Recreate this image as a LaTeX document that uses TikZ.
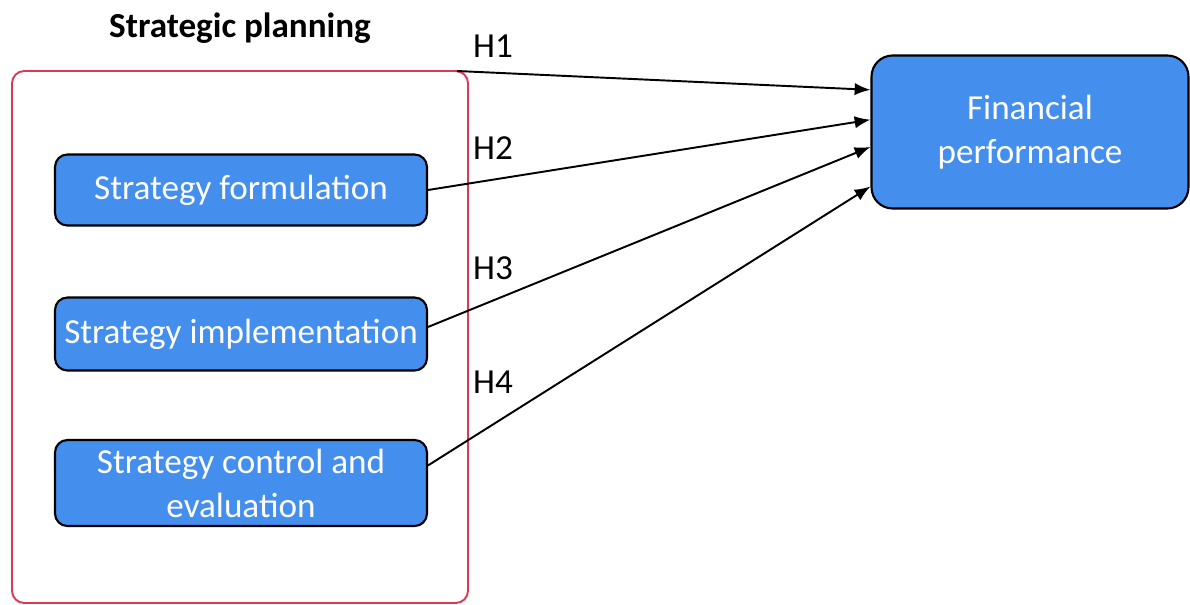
\documentclass[tikz,border=0pt]{standalone}
\usepackage{fontspec}
\setmainfont{Carlito}
\usetikzlibrary{arrows.meta,positioning}
\definecolor{boxblue}{RGB}{68,142,238}
\definecolor{framered}{RGB}{222,56,88}

\begin{document}
\begin{tikzpicture}[x=0.02cm, y=-0.02cm,
    stratbox/.style={draw=black, line width=1.2pt, fill=boxblue, rounded corners=7pt,
        text=white, align=center, font=\fontsize{20}{25}\selectfont,
        minimum width=7.44cm, inner sep=0pt},
    hlabel/.style={font=\fontsize{20}{24}\selectfont},
    link/.style={-{Latex[length=9pt,width=7pt]}, line width=1.1pt}]
    \useasboundingbox (0,0) rectangle (1190,605);

    % Strategic planning frame
    \draw[framered, line width=1.1pt, rounded corners=7pt] (12,71) rectangle (468,603);
    \node[font=\fontsize{20}{24}\selectfont\bfseries] (title) at (240,28) {Strategic planning};

    % Dimensions
    \node[stratbox, minimum height=1.42cm] (form) at (241,190) {Strategy formulation};
    \node[stratbox, minimum height=1.46cm] (impl) at (241,334) {Strategy implementation};
    \node[stratbox, minimum height=1.72cm] (ctrl) at (241,483) {Strategy control and\\evaluation};

    % Outcome
    \node[stratbox, minimum width=6.34cm, minimum height=3.06cm, rounded corners=12pt] (fin) at (1030,132) {Financial\\performance};

    % Hypotheses
    \coordinate (frametop) at (457,71);
    \draw[link] (frametop) -- ([yshift=24pt]fin.west);
    \draw[link] (form.east) -- ([yshift=7pt]fin.west);
    \draw[link] ([yshift=4pt]impl.east) -- ([yshift=-8.5pt]fin.west);
    \draw[link] ([yshift=10pt]ctrl.east) -- ([yshift=-31pt]fin.west);

    \node[hlabel] (h1) at (493,46) {H1};
    \node[hlabel] (h2) at (493,148) {H2};
    \node[hlabel] (h3) at (493,268) {H3};
    \node[hlabel] (h4) at (493,382) {H4};
\end{tikzpicture}
\end{document}
